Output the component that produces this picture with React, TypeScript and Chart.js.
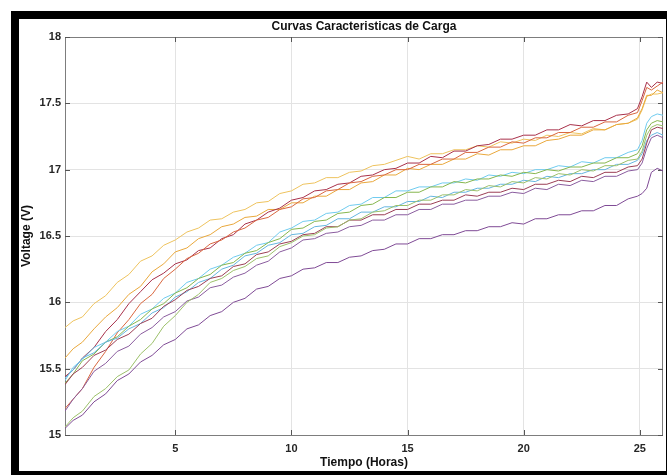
import React, { useEffect, useRef } from "react";
import { Chart, registerables } from "chart.js";

Chart.register(...registerables);

const hours = [
  0.25, 0.6, 1, 1.5, 2, 2.5, 3, 3.5, 4, 4.5,
  5, 5.5, 6, 6.5, 7, 7.5, 8, 8.5, 9, 9.5,
  10, 10.5, 11, 11.5, 12, 12.5, 13, 13.5, 14, 14.5,
  15, 15.5, 16, 16.5, 17, 17.5, 18, 18.5, 19, 19.5,
  20, 20.5, 21, 21.5, 22, 22.5, 23, 23.5, 24, 24.5,
  24.9, 25.1, 25.3, 25.5, 25.75, 26.0,
];

const curveYellowTop = [
  15.81, 15.86, 15.89, 15.99, 16.05, 16.15, 16.21, 16.31, 16.35, 16.43,
  16.47, 16.53, 16.56, 16.62, 16.63, 16.68, 16.70, 16.75, 16.76, 16.82,
  16.84, 16.89, 16.90, 16.94, 16.94, 16.98, 16.99, 17.03, 17.04, 17.07,
  17.10, 17.08, 17.12, 17.12, 17.15, 17.15, 17.18, 17.17, 17.21, 17.20,
  17.23, 17.22, 17.26, 17.25, 17.28, 17.27, 17.31, 17.30, 17.34, 17.35,
  17.38, 17.45, 17.55, 17.57, 17.57, 17.58,
];
const curveYellowOrange = [
  15.58, 15.65, 15.70, 15.80, 15.89, 15.96, 16.06, 16.12, 16.23, 16.29,
  16.38, 16.41, 16.48, 16.51, 16.57, 16.59, 16.64, 16.65, 16.70, 16.70,
  16.75, 16.75, 16.80, 16.80, 16.85, 16.85, 16.90, 16.91, 16.96, 16.96,
  17.01, 17.00, 17.04, 17.04, 17.08, 17.08, 17.12, 17.11, 17.15, 17.15,
  17.18, 17.18, 17.22, 17.23, 17.26, 17.26, 17.30, 17.30, 17.34, 17.35,
  17.39, 17.46, 17.56, 17.56, 17.60, 17.58,
];
const curveDarkRed = [
  15.44, 15.49, 15.58, 15.66, 15.78, 15.87, 15.99, 16.08, 16.17, 16.22,
  16.29, 16.32, 16.39, 16.41, 16.48, 16.51, 16.59, 16.62, 16.68, 16.71,
  16.77, 16.79, 16.84, 16.85, 16.89, 16.90, 16.95, 16.96, 17.00, 17.01,
  17.05, 17.05, 17.10, 17.09, 17.14, 17.14, 17.18, 17.19, 17.23, 17.23,
  17.26, 17.26, 17.30, 17.30, 17.34, 17.33, 17.37, 17.37, 17.41, 17.42,
  17.46, 17.55, 17.66, 17.62, 17.66, 17.65,
];
const curveOrangeRed = [
  15.20, 15.27, 15.35, 15.51, 15.63, 15.77, 15.87, 15.99, 16.06, 16.18,
  16.25, 16.33, 16.37, 16.44, 16.47, 16.53, 16.56, 16.62, 16.64, 16.70,
  16.72, 16.78, 16.79, 16.84, 16.85, 16.90, 16.91, 16.95, 16.96, 17.00,
  17.00, 17.04, 17.04, 17.08, 17.08, 17.13, 17.13, 17.17, 17.17, 17.21,
  17.20, 17.24, 17.24, 17.28, 17.28, 17.32, 17.32, 17.36, 17.36, 17.41,
  17.43, 17.52, 17.62, 17.60, 17.63, 17.66,
];
const curveCyan = [
  15.41, 15.51, 15.57, 15.66, 15.70, 15.78, 15.82, 15.91, 15.95, 16.03,
  16.07, 16.15, 16.18, 16.25, 16.28, 16.34, 16.37, 16.43, 16.45, 16.53,
  16.56, 16.61, 16.62, 16.67, 16.68, 16.73, 16.74, 16.79, 16.79, 16.84,
  16.84, 16.87, 16.87, 16.90, 16.90, 16.93, 16.92, 16.96, 16.95, 16.98,
  16.97, 17.00, 17.00, 17.03, 17.02, 17.06, 17.05, 17.09, 17.09, 17.13,
  17.15, 17.22, 17.35, 17.40, 17.42, 17.41,
];
const curveGreen = [
  15.39, 15.46, 15.56, 15.61, 15.70, 15.74, 15.82, 15.87, 15.95, 15.99,
  16.07, 16.11, 16.18, 16.21, 16.28, 16.30, 16.37, 16.39, 16.45, 16.48,
  16.55, 16.56, 16.61, 16.62, 16.67, 16.68, 16.73, 16.74, 16.79, 16.79,
  16.83, 16.83, 16.87, 16.87, 16.91, 16.90, 16.93, 16.93, 16.96, 16.95,
  16.98, 16.97, 17.00, 16.99, 17.02, 17.02, 17.05, 17.05, 17.09, 17.09,
  17.12, 17.18, 17.30, 17.35, 17.37, 17.36,
];
const curveLightBlue = [
  15.43, 15.49, 15.58, 15.62, 15.70, 15.73, 15.80, 15.84, 15.92, 15.96,
  16.04, 16.08, 16.15, 16.18, 16.25, 16.28, 16.35, 16.37, 16.43, 16.45,
  16.51, 16.52, 16.57, 16.58, 16.63, 16.63, 16.68, 16.68, 16.72, 16.72,
  16.76, 16.76, 16.80, 16.79, 16.83, 16.83, 16.86, 16.86, 16.89, 16.89,
  16.92, 16.91, 16.95, 16.94, 16.97, 16.97, 17.00, 17.00, 17.04, 17.04,
  17.07, 17.12, 17.22, 17.26, 17.28, 17.26,
];
const curveBrown = [
  15.38, 15.46, 15.51, 15.60, 15.64, 15.72, 15.76, 15.84, 15.88, 15.97,
  16.02, 16.09, 16.12, 16.18, 16.20, 16.27, 16.29, 16.36, 16.38, 16.44,
  16.46, 16.51, 16.52, 16.57, 16.57, 16.62, 16.62, 16.66, 16.66, 16.70,
  16.70, 16.74, 16.74, 16.77, 16.77, 16.81, 16.80, 16.83, 16.83, 16.86,
  16.85, 16.89, 16.89, 16.92, 16.91, 16.95, 16.94, 16.98, 16.98, 17.02,
  17.03, 17.08, 17.20, 17.30, 17.32, 17.31,
];
const curvePurple = [
  15.18, 15.27, 15.35, 15.48, 15.54, 15.63, 15.67, 15.76, 15.81, 15.89,
  15.93, 16.01, 16.04, 16.11, 16.13, 16.19, 16.22, 16.28, 16.31, 16.38,
  16.41, 16.47, 16.48, 16.52, 16.53, 16.57, 16.58, 16.62, 16.62, 16.66,
  16.66, 16.70, 16.70, 16.74, 16.74, 16.77, 16.77, 16.80, 16.80, 16.83,
  16.82, 16.86, 16.85, 16.89, 16.88, 16.92, 16.91, 16.95, 16.95, 16.99,
  17.00, 17.05, 17.16, 17.24, 17.26, 17.24,
];
const curveOlive = [
  15.06, 15.13, 15.18, 15.29, 15.35, 15.44, 15.49, 15.61, 15.69, 15.82,
  15.90, 16.00, 16.06, 16.15, 16.18, 16.24, 16.27, 16.33, 16.35, 16.42,
  16.45, 16.50, 16.51, 16.56, 16.57, 16.62, 16.63, 16.68, 16.69, 16.73,
  16.73, 16.77, 16.77, 16.81, 16.81, 16.85, 16.84, 16.88, 16.87, 16.91,
  16.90, 16.94, 16.93, 16.97, 16.96, 17.00, 16.99, 17.03, 17.03, 17.07,
  17.08, 17.14, 17.26, 17.32, 17.34, 17.33,
];
const curvePurpleLow = [
  15.05, 15.11, 15.15, 15.25, 15.31, 15.41, 15.46, 15.55, 15.60, 15.68,
  15.72, 15.80, 15.83, 15.90, 15.93, 16.00, 16.03, 16.10, 16.12, 16.18,
  16.20, 16.25, 16.26, 16.30, 16.30, 16.34, 16.35, 16.39, 16.40, 16.44,
  16.44, 16.48, 16.48, 16.51, 16.51, 16.54, 16.54, 16.57, 16.57, 16.60,
  16.59, 16.63, 16.63, 16.66, 16.66, 16.69, 16.69, 16.73, 16.73, 16.78,
  16.80, 16.82, 16.86, 16.98, 17.01, 16.99,
];

const seriesValues = [
  curvePurpleLow, curveOlive, curvePurple, curveBrown, curveLightBlue,
  curveGreen, curveCyan, curveOrangeRed, curveDarkRed, curveYellowOrange, curveYellowTop,
];
const seriesColors = [
  "#7f4a95", "#9cc06a", "#8a5c9e", "#9b3e55", "#66b6e0",
  "#86b64e", "#6fcbef", "#d9673f", "#a8304a", "#e9a83c", "#eec35e",
];

const xTicks = [5, 10, 15, 20, 25];
const yTicks = [15, 15.5, 16, 16.5, 17, 17.5, 18];

const FONT = "'Liberation Sans', Arial, Helvetica, sans-serif";

const matlabAxes = {
  id: "matlabAxes",
  beforeDatasetsDraw(chart: any) {
    const { ctx, chartArea: a, scales } = chart;
    ctx.save();
    ctx.strokeStyle = "#7d7d7d";
    ctx.lineWidth = 1;
    ctx.beginPath();
    ctx.moveTo(a.left + 0.5, a.top + 0.5);
    ctx.lineTo(a.right - 0.5, a.top + 0.5);
    ctx.lineTo(a.right - 0.5, a.bottom + 0.5);
    ctx.lineTo(a.left + 0.5, a.bottom + 0.5);
    ctx.closePath();
    ctx.stroke();
    ctx.strokeStyle = "#555555";
    ctx.beginPath();
    for (const v of xTicks) {
      const px = Math.round(scales.x.getPixelForValue(v)) + 0.5;
      ctx.moveTo(px, a.bottom);
      ctx.lineTo(px, a.bottom - 5);
      ctx.moveTo(px, a.top);
      ctx.lineTo(px, a.top + 5);
    }
    for (const v of yTicks) {
      const py = Math.round(scales.y.getPixelForValue(v)) + 0.5;
      ctx.moveTo(a.left, py);
      ctx.lineTo(a.left + 5, py);
      ctx.moveTo(a.right, py);
      ctx.lineTo(a.right - 5, py);
    }
    ctx.stroke();
    ctx.restore();
  },
};

export default function App() {
  const ref = useRef<HTMLCanvasElement | null>(null);

  useEffect(() => {
    if (!ref.current) return;
    const datasets = seriesValues.map((vals, i) => ({
      data: hours.map((h, j) => ({ x: h, y: vals[j] })),
      borderColor: seriesColors[i],
      borderWidth: 1,
      pointRadius: 0,
      tension: 0,
      fill: false,
    }));
    const chart = new Chart(ref.current, {
      type: "line",
      data: { datasets },
      plugins: [matlabAxes],
      options: {
        responsive: false,
        animation: false,
        devicePixelRatio: 1,
        layout: { padding: { left: 0, right: 3, top: 0, bottom: 0 } },
        plugins: {
          legend: { display: false },
          tooltip: { enabled: false },
          title: {
            display: true,
            fullSize: false,
            text: "Curvas Caracteristicas de Carga",
            color: "#111111",
            font: { family: FONT, size: 12, weight: "bold" },
            padding: { top: 0, bottom: 3.6 },
          },
        },
        scales: {
          x: {
            type: "linear",
            min: 0.25,
            max: 26.0,
            afterBuildTicks: (s: any) => {
              s.ticks = xTicks.map((v) => ({ value: v }));
            },
            afterFit: (s: any) => {
              s.height = 36;
            },
            grid: { color: "#e3e3e3", drawTicks: false, lineWidth: 1 },
            border: { display: false },
            ticks: {
              color: "#262626",
              font: { family: FONT, size: 11, weight: "bold" },
              padding: 7,
              maxRotation: 0,
              autoSkip: false,
              callback: (v: any) => String(v),
            },
            title: {
              display: true,
              text: "Tiempo (Horas)",
              color: "#111111",
              font: { family: FONT, size: 12, weight: "bold" },
              padding: { top: 0, bottom: 0.8 },
            },
          },
          y: {
            type: "linear",
            min: 15,
            max: 18,
            afterBuildTicks: (s: any) => {
              s.ticks = yTicks.map((v) => ({ value: v }));
            },
            afterFit: (s: any) => {
              s.width = 46;
            },
            grid: { color: "#e3e3e3", drawTicks: false, lineWidth: 1 },
            border: { display: false },
            ticks: {
              color: "#262626",
              font: { family: FONT, size: 11, weight: "bold" },
              padding: 4,
              autoSkip: false,
              callback: (v: any) => String(v),
            },
            title: {
              display: true,
              text: "Voltage (V)",
              color: "#111111",
              font: { family: FONT, size: 12, weight: "bold" },
              padding: { top: 0, bottom: 0 },
            },
          },
        },
      },
    } as any);
    return () => chart.destroy();
  }, []);

  return (
    <div
      style={{
        position: "fixed",
        left: 0,
        top: 0,
        width: 667,
        height: 475,
        overflow: "hidden",
        background: "#ffffff",
      }}
    >
      <div
        style={{
          position: "absolute",
          left: 11,
          top: 11,
          width: 663,
          height: 468,
          border: "8px solid #000",
          boxSizing: "border-box",
        }}
      />
      <canvas
        ref={ref}
        width={647}
        height={452}
        style={{ position: "absolute", left: 19, top: 19, width: 647, height: 452 }}
      />
    </div>
  );
}
